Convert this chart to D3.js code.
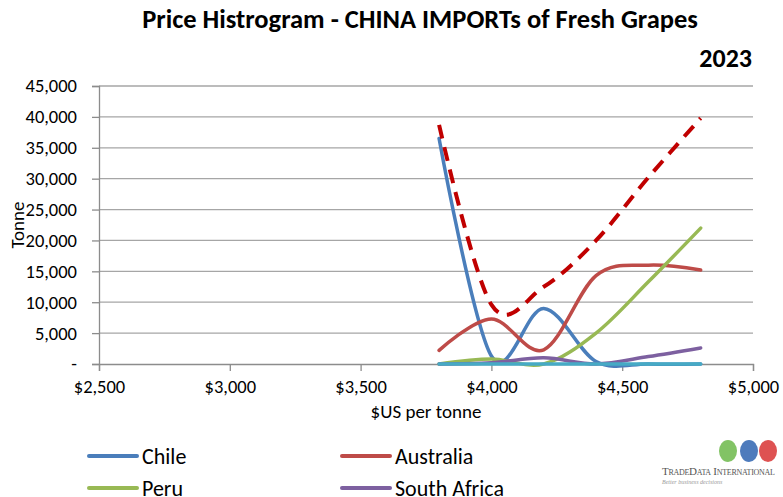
<!DOCTYPE html>
<html>
<head>
<meta charset="utf-8">
<script src="https://cdn.jsdelivr.net/npm/d3@7"></script>
<style>
	body { margin: 0; background: #fff; }
	svg { font-family: Carlito, Lato, "Open Sans", sans-serif; }
</style>
</head>
<body>
<svg id="chart" width="783" height="497"></svg>
<script>
// price buckets ($US per tonne)
const prices = [3800, 4000, 4200, 4400, 4600, 4800];

// tonnes per origin
const chile = [36500, 1300, 9000, 400, 0, 0];
const australia = [2200, 7300, 2300, 14300, 16000, 15200];
const peru = [0, 800, 0, 5000, 13300, 22000];
const southAfrica = [0, 200, 1000, 0, 1200, 2600];
const other = [0, 0, 0, 0, 0, 0];
const total = [38700, 9600, 12500, 20000, 30200, 39800];

const xTicks = [2500, 3000, 3500, 4000, 4500, 5000];
const yTicks = [0, 5000, 10000, 15000, 20000, 25000, 30000, 35000, 40000, 45000];

const series = [
	{ name: "Chile", values: chile, color: "#4a7ebb" },
	{ name: "Australia", values: australia, color: "#be4b48" },
	{ name: "Peru", values: peru, color: "#98b954" },
	{ name: "South Africa", values: southAfrica, color: "#7d60a0" },
	{ name: "", values: other, color: "#46aac5" }
];

const svg = d3.select("#chart");
const plotLeft = 99, plotRight = 753, plotTop = 86, plotBottom = 364;
const font = "Carlito, Lato, 'Open Sans', sans-serif";

const x = d3.scaleLinear().domain([2500, 5000]).range([plotLeft, plotRight]);
const y = d3.scaleLinear().domain([0, 45000]).range([plotBottom, plotTop]);

// gridlines
svg.append("g")
	.selectAll("line")
	.data(yTicks.slice(1))
	.enter()
	.append("line")
	.attr("x1", plotLeft)
	.attr("x2", plotRight)
	.attr("y1", (d) => y(d))
	.attr("y2", (d) => y(d))
	.attr("stroke", "#a6a6a6")
	.attr("stroke-width", 1.3);

// y axis
const yAxis = svg.append("g")
	.attr("transform", `translate(${plotLeft},0)`)
	.call(d3.axisLeft(y).tickValues(yTicks).tickSize(7).tickPadding(15)
		.tickFormat((d) => (d === 0 ? "-" : d3.format(",")(d))));
yAxis.attr("font-family", font);
yAxis.select(".domain").attr("stroke", "#8c8c8c").attr("stroke-width", 1.3);
yAxis.selectAll(".tick line").attr("stroke", "#8c8c8c").attr("stroke-width", 1.3);
yAxis.selectAll("text").attr("font-size", 18.5).attr("fill", "#000");

// x axis
const xAxis = svg.append("g")
	.attr("transform", `translate(0,${plotBottom})`)
	.call(d3.axisBottom(x).tickValues(xTicks).tickSize(7).tickPadding(9)
		.tickFormat((d) => "$" + d3.format(",")(d)));
xAxis.attr("font-family", font);
xAxis.select(".domain").attr("stroke", "#8c8c8c").attr("stroke-width", 1.3);
xAxis.selectAll(".tick line").attr("stroke", "#8c8c8c").attr("stroke-width", 1.3);
xAxis.selectAll("text").attr("font-size", 18.5).attr("fill", "#000");

// smoothed lines, Excel style
const line = d3.line()
	.x((d, i) => x(prices[i]))
	.y((d) => y(d))
	.curve(d3.curveCardinal.tension(0));

series.forEach((s) => {
	svg.append("path")
		.datum(s.values)
		.attr("d", line)
		.attr("fill", "none")
		.attr("stroke", s.color)
		.attr("stroke-width", 3.5)
		.attr("stroke-linecap", "round");
});

svg.append("path")
	.datum(total)
	.attr("d", line)
	.attr("fill", "none")
	.attr("stroke", "#c00000")
	.attr("stroke-width", 4)
	.attr("stroke-dasharray", "14,9");

// titles
svg.append("text")
	.attr("x", 420)
	.attr("y", 28)
	.attr("text-anchor", "middle")
	.attr("font-size", 26.5)
	.attr("font-weight", "bold")
	.text("Price Histrogram - CHINA IMPORTs of Fresh Grapes");

svg.append("text")
	.attr("x", 752)
	.attr("y", 67)
	.attr("text-anchor", "end")
	.attr("font-size", 26)
	.attr("font-weight", "bold")
	.text("2023");

svg.append("text")
	.attr("x", 426)
	.attr("y", 418)
	.attr("text-anchor", "middle")
	.attr("font-size", 19)
	.text("$US per tonne");

svg.append("text")
	.attr("transform", "translate(24,225) rotate(-90)")
	.attr("text-anchor", "middle")
	.attr("font-size", 19)
	.text("Tonne");

// legend
const legendPos = [[89, 456], [342, 456], [89, 488], [342, 488]];
series.slice(0, 4).forEach((s, i) => {
	const [lx, ly] = legendPos[i];
	svg.append("line")
		.attr("x1", lx)
		.attr("x2", lx + 48)
		.attr("y1", ly)
		.attr("y2", ly)
		.attr("stroke", s.color)
		.attr("stroke-width", 4)
		.attr("stroke-linecap", "round");
	svg.append("text")
		.attr("x", lx + 53)
		.attr("y", ly + 8)
		.attr("font-size", 22)
		.text(s.name);
});

// logo
const globes = [["#6cb84a", 728], ["#2f64b0", 749], ["#d83434", 768]];
globes.forEach(([c, gx]) => {
	svg.append("ellipse")
		.attr("cx", gx)
		.attr("cy", 451)
		.attr("rx", 9)
		.attr("ry", 11)
		.attr("fill", c)
		.attr("opacity", 0.85);
});
svg.append("text")
	.attr("x", 662)
	.attr("y", 475)
	.style("font-family", "'Liberation Serif', serif")
	.style("font-variant", "small-caps")
	.attr("font-size", 11)
	.attr("fill", "#555")
	.attr("textLength", 113)
	.text("TradeData International");
svg.append("text")
	.attr("x", 662)
	.attr("y", 484)
	.style("font-family", "'Liberation Serif', serif")
	.attr("font-size", 6)
	.attr("font-style", "italic")
	.attr("fill", "#999")
	.text("Better business decisions");
</script>
</body>
</html>
